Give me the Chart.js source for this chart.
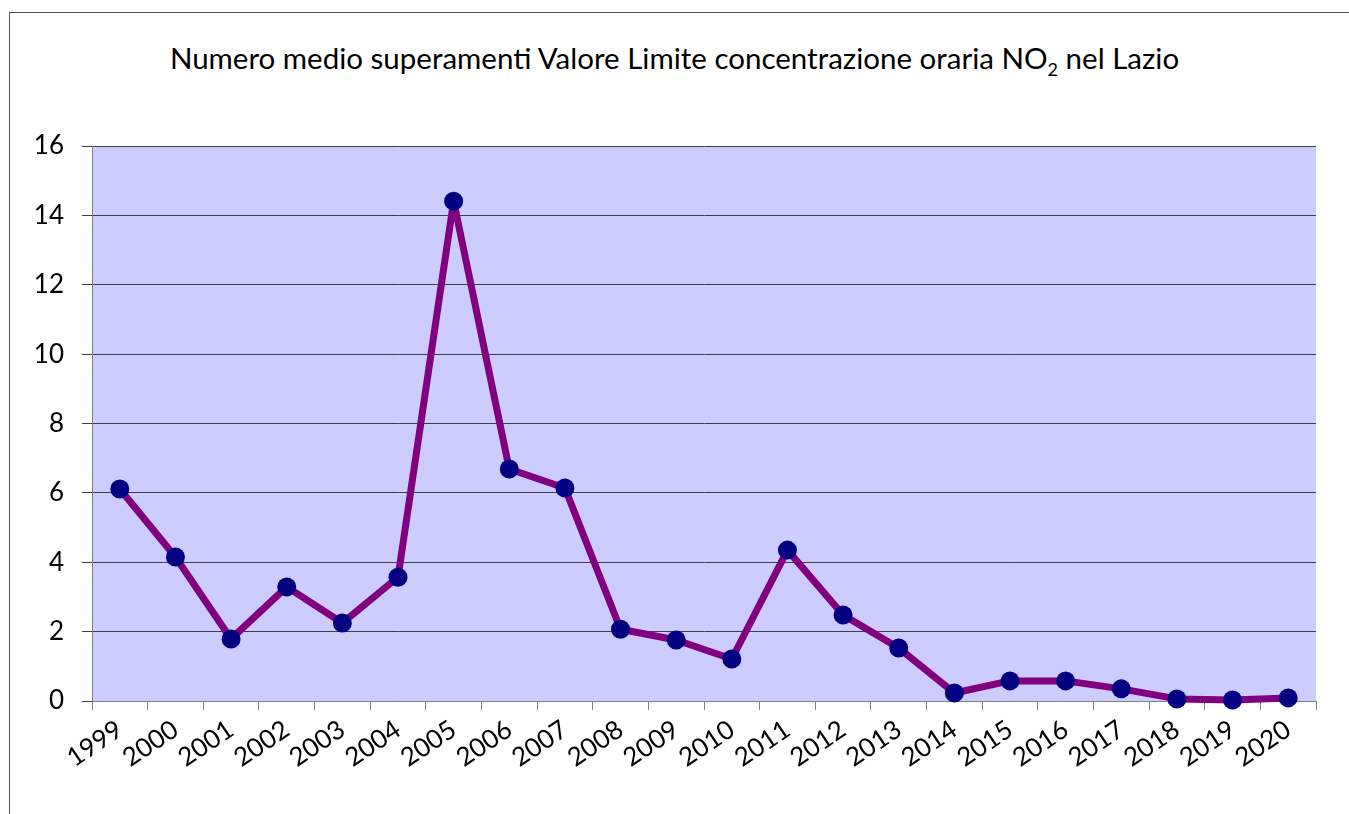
<!DOCTYPE html>
<html>
<head>
<meta charset="utf-8">
<script src="https://cdn.jsdelivr.net/npm/chart.js@4.4.1/dist/chart.umd.min.js"></script>
<style>
  html,body{margin:0;padding:0;background:#fff;overflow:hidden;}
  #wrap{position:relative;width:1349px;height:814px;overflow:hidden;}
  #frame{position:absolute;left:9px;top:12px;width:1340px;height:802px;border-left:1px solid #555;border-top:1px solid #555;box-sizing:border-box;}
  #title{position:absolute;left:0;width:1349px;top:40px;text-align:center;
         font-family:Lato,'Open Sans',sans-serif;font-size:29.5px;color:#000;white-space:nowrap;}
  #title sub{font-size:18px;vertical-align:-7px;line-height:0;}
  canvas{position:absolute;left:0;top:0;}
</style>
</head>
<body>
<div id="wrap">
  <div id="frame"></div>
  <div id="title">Numero medio superamenti Valore Limite concentrazione oraria NO<sub>2</sub> nel Lazio</div>
  <canvas id="c" width="1349" height="814"></canvas>
</div>
<script>
// dati
const years=['1999','2000','2001','2002','2003','2004','2005','2006','2007','2008','2009',
             '2010','2011','2012','2013','2014','2015','2016','2017','2018','2019','2020'];
const superamenti=[6.11,4.15,1.79,3.29,2.25,3.57,14.41,6.69,6.14,2.07,1.76,
                   1.21,4.35,2.48,1.53,0.23,0.58,0.58,0.35,0.06,0.03,0.09];
const yTicks=[0,2,4,6,8,10,12,14,16];

const FONT='Lato, "Open Sans", sans-serif';

// sfondo area del grafico
const plotBg={
  id:'plotBg',
  beforeDraw(chart){
    const {ctx,chartArea:a}=chart;
    ctx.save();
    ctx.fillStyle='#CCCCFF';
    ctx.fillRect(a.left,a.top,a.right-a.left,a.bottom-a.top);
    ctx.restore();
  }
};

new Chart(document.getElementById('c'),{
  type:'line',
  plugins:[plotBg],
  data:{
    labels:years,
    datasets:[{
      data:superamenti,
      borderColor:'#800080',
      borderWidth:7,
      borderJoinStyle:'round',
      pointBackgroundColor:'#000080',
      pointBorderColor:'#000080',
      pointBorderWidth:0,
      pointRadius:9.5,
      tension:0,
      clip:false
    }]
  },
  options:{
    responsive:false,
    animation:false,
    devicePixelRatio:1,
    layout:{padding:{top:146,right:33,left:0,bottom:0}},
    plugins:{legend:{display:false},title:{display:false},tooltip:{enabled:false}},
    scales:{
      x:{
        offset:true,
        afterFit(s){ s.height=113; },
        grid:{offset:true,drawOnChartArea:false,drawTicks:true,tickLength:9,color:'#808080',lineWidth:1},
        border:{color:'#808080',width:1},
        ticks:{color:'#000',font:{family:FONT,size:26},minRotation:34,maxRotation:34,padding:4,autoSkip:false}
      },
      y:{
        min:0,max:16,
        afterFit(s){ s.width=92; },
        afterBuildTicks(s){ s.ticks=yTicks.map(v=>({value:v})); },
        grid:{color:'#404040',lineWidth:1,tickLength:10},
        border:{color:'#808080',width:1},
        ticks:{color:'#000',font:{family:FONT,size:26},padding:18}
      }
    }
  }
});
</script>
</body>
</html>
